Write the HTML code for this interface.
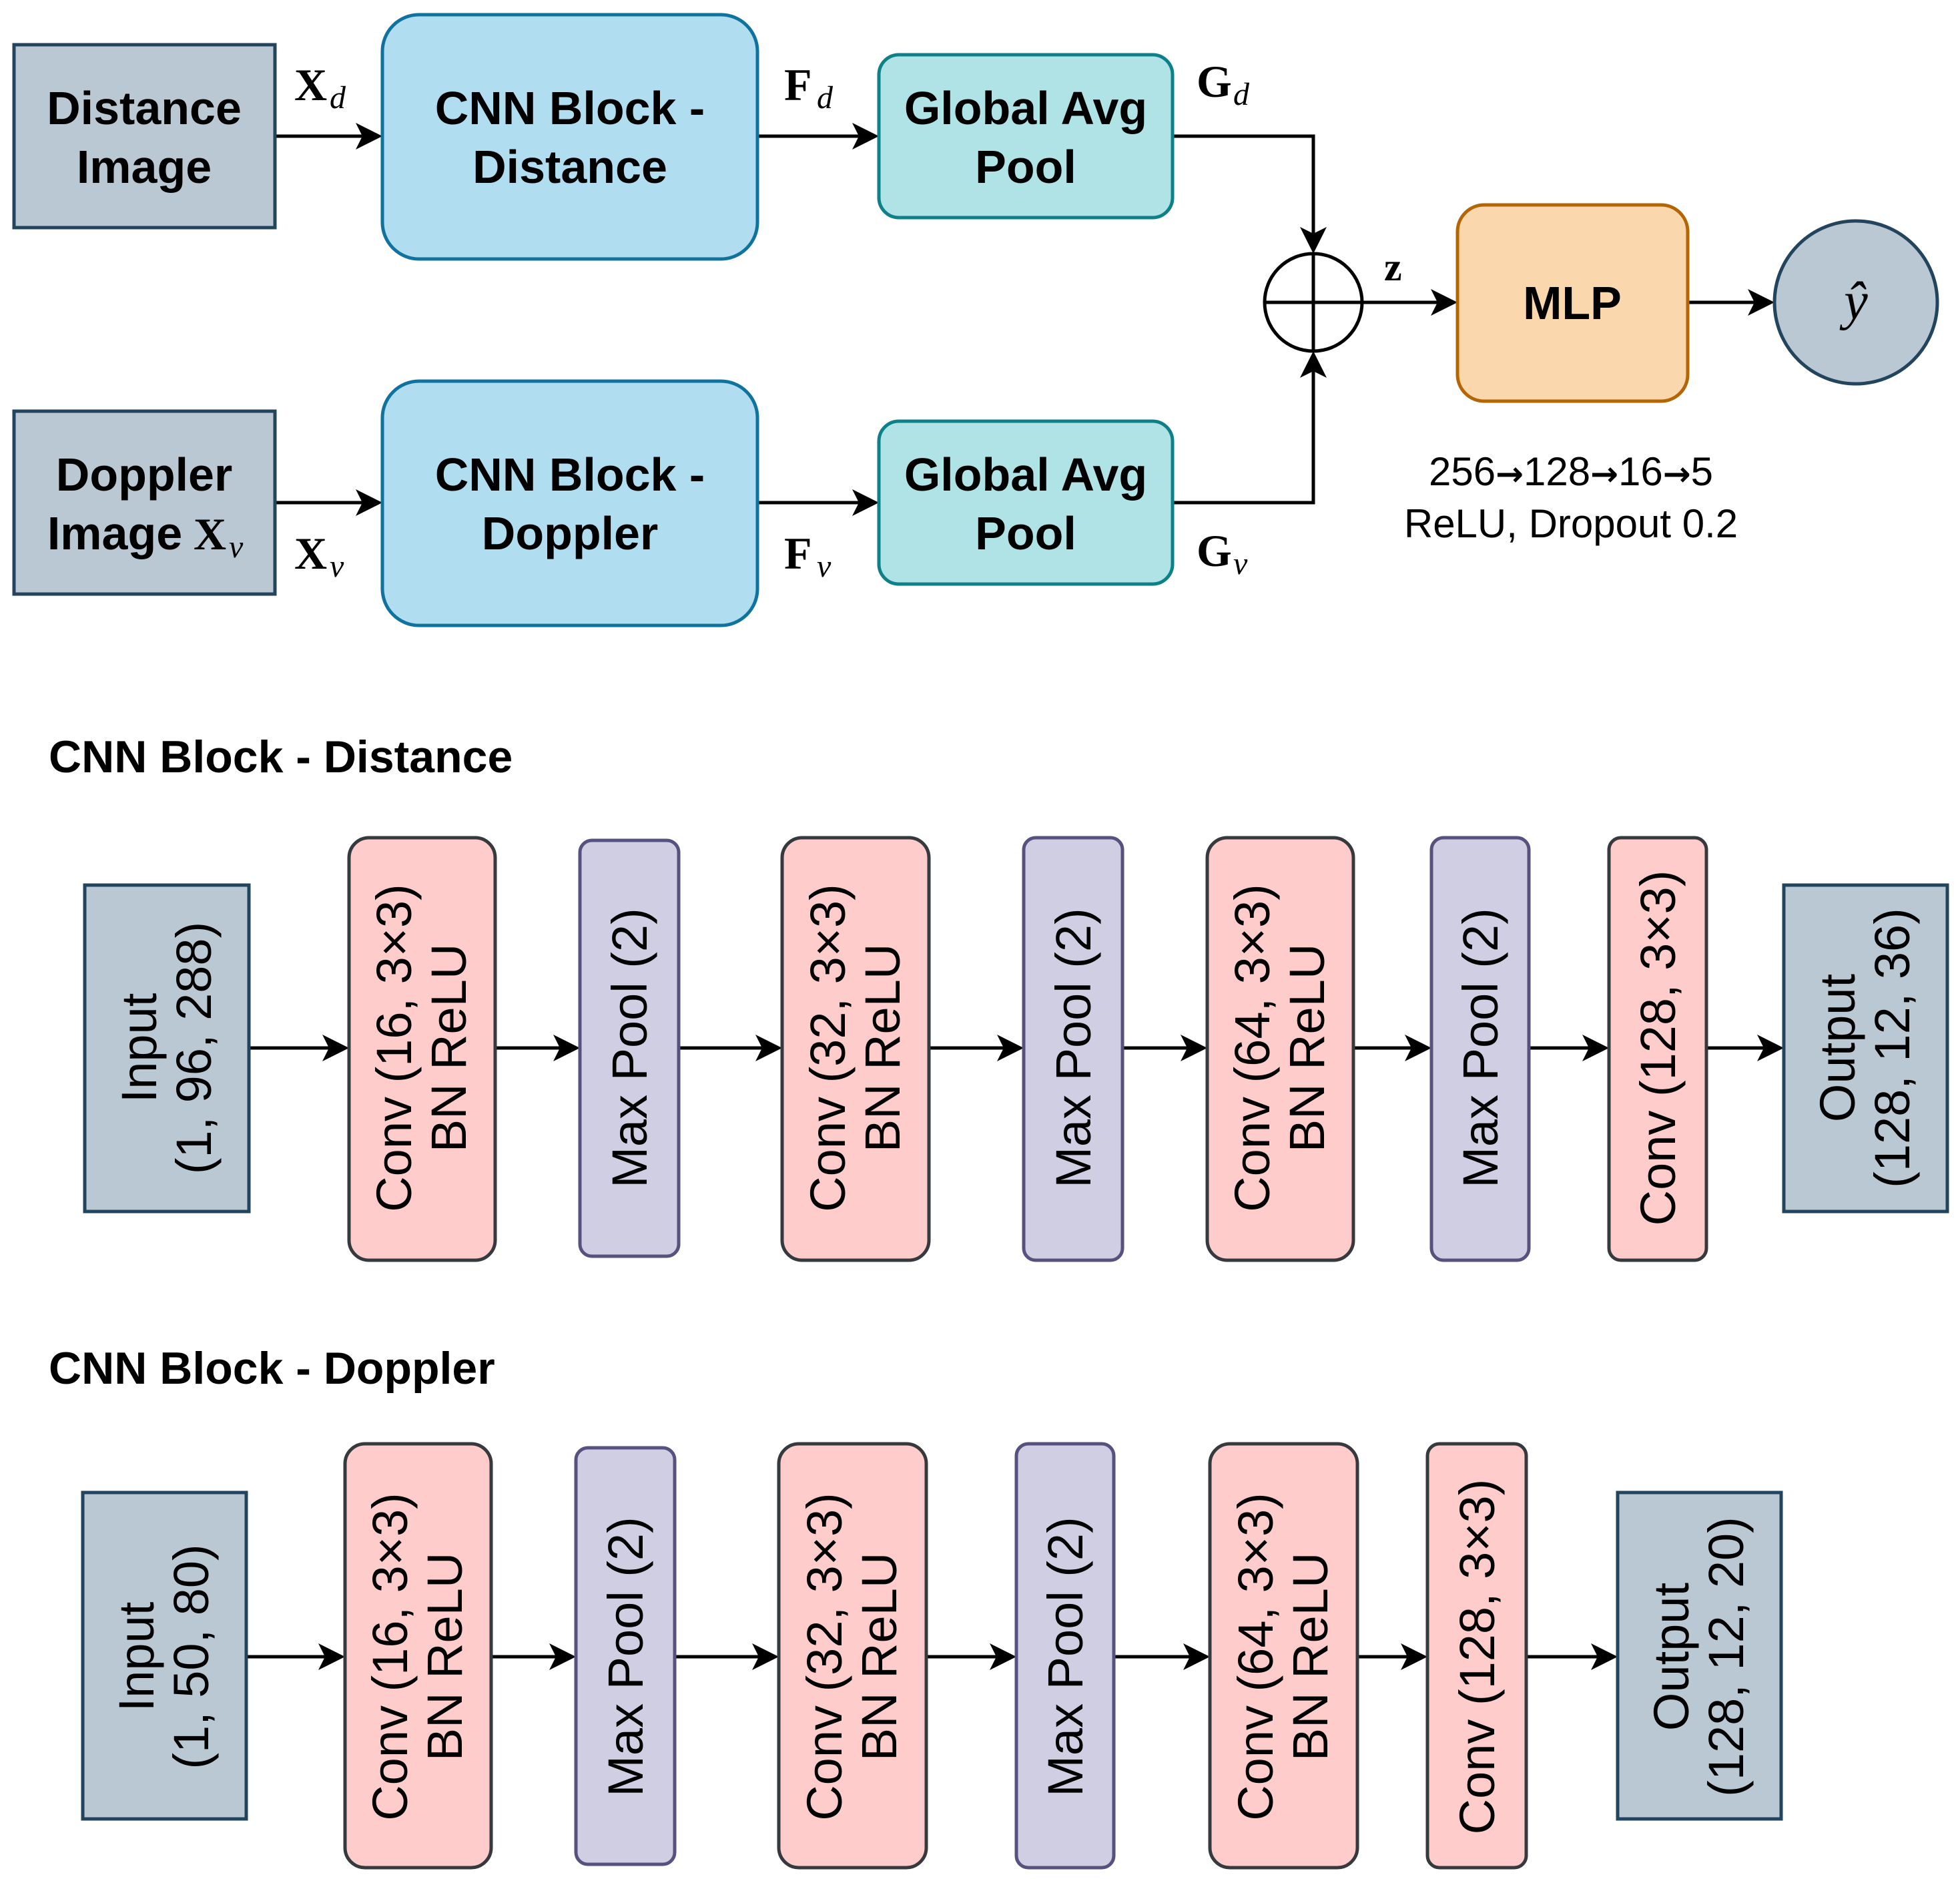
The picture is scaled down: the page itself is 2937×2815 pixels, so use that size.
<!DOCTYPE html>
<html><head><meta charset="utf-8"><style>
html,body{margin:0;padding:0;background:#fff;}
svg{display:block;}
.b{font-family:"Liberation Sans",Arial,sans-serif;font-weight:bold;font-size:70px;fill:#000;}
.r{font-family:"Liberation Sans",Arial,sans-serif;font-size:74px;fill:#000;}
.m{font-family:"Liberation Serif","DejaVu Serif",serif;font-weight:bold;font-size:68px;fill:#000;}
.s{font-family:"Liberation Serif","DejaVu Serif",serif;font-style:italic;font-size:48px;fill:#000;}
.ar{font-family:"DejaVu Sans",sans-serif;font-weight:bold;}
</style></head><body>
<svg width="2937" height="2815" viewBox="0 0 2937 2815" xmlns="http://www.w3.org/2000/svg">
<g stroke="#000" stroke-width="5" fill="none">
<line x1="412" y1="204" x2="545" y2="204"/>
<line x1="1135" y1="204" x2="1290" y2="204"/>
<line x1="412" y1="753" x2="545" y2="753"/>
<line x1="1135" y1="753" x2="1290" y2="753"/>
<polyline points="1757,204 1968,204 1968,352"/>
<polyline points="1757,753 1968,753 1968,554"/>
<line x1="2042" y1="453" x2="2156" y2="453"/>
<line x1="2529" y1="453" x2="2631" y2="453"/>
<line x1="373" y1="1570" x2="495" y2="1570"/>
<line x1="742" y1="1570" x2="841" y2="1570"/>
<line x1="1017" y1="1570" x2="1144" y2="1570"/>
<line x1="1392" y1="1570" x2="1506" y2="1570"/>
<line x1="1682" y1="1570" x2="1781" y2="1570"/>
<line x1="2028" y1="1570" x2="2117" y2="1570"/>
<line x1="2291" y1="1570" x2="2383" y2="1570"/>
<line x1="2557" y1="1570" x2="2645" y2="1570"/>
<line x1="369" y1="2482" x2="489" y2="2482"/>
<line x1="736" y1="2482" x2="835" y2="2482"/>
<line x1="1011" y1="2482" x2="1139" y2="2482"/>
<line x1="1388" y1="2482" x2="1495" y2="2482"/>
<line x1="1669" y1="2482" x2="1785" y2="2482"/>
<line x1="2034" y1="2482" x2="2111" y2="2482"/>
<line x1="2287" y1="2482" x2="2396" y2="2482"/>
</g>
<g fill="#000">
<path d="M573 204 l-40 -20 l10 20 l-10 20z"/>
<path d="M1317 204 l-40 -20 l10 20 l-10 20z"/>
<path d="M573 753 l-40 -20 l10 20 l-10 20z"/>
<path d="M1317 753 l-40 -20 l10 20 l-10 20z"/>
<path d="M1968 380 l-20 -40 l20 10 l20 -10z"/>
<path d="M1968 526 l-20 40 l20 -10 l20 10z"/>
<path d="M2184 453 l-40 -20 l10 20 l-10 20z"/>
<path d="M2659 453 l-40 -20 l10 20 l-10 20z"/>
<path d="M523 1570 l-40 -20 l10 20 l-10 20z"/>
<path d="M869 1570 l-40 -20 l10 20 l-10 20z"/>
<path d="M1172 1570 l-40 -20 l10 20 l-10 20z"/>
<path d="M1534 1570 l-40 -20 l10 20 l-10 20z"/>
<path d="M1809 1570 l-40 -20 l10 20 l-10 20z"/>
<path d="M2145 1570 l-40 -20 l10 20 l-10 20z"/>
<path d="M2411 1570 l-40 -20 l10 20 l-10 20z"/>
<path d="M2673 1570 l-40 -20 l10 20 l-10 20z"/>
<path d="M517 2482 l-40 -20 l10 20 l-10 20z"/>
<path d="M863 2482 l-40 -20 l10 20 l-10 20z"/>
<path d="M1167 2482 l-40 -20 l10 20 l-10 20z"/>
<path d="M1523 2482 l-40 -20 l10 20 l-10 20z"/>
<path d="M1813 2482 l-40 -20 l10 20 l-10 20z"/>
<path d="M2139 2482 l-40 -20 l10 20 l-10 20z"/>
<path d="M2424 2482 l-40 -20 l10 20 l-10 20z"/>
</g>
<g stroke-width="5">
<rect x="21" y="67" width="391" height="274" fill="#bac8d3" stroke="#23445d"/>
<rect x="573" y="22" width="562" height="366" rx="55" fill="#b1ddf0" stroke="#10739e"/>
<rect x="1317" y="82" width="440" height="244" rx="30" fill="#b0e3e6" stroke="#0e8088"/>
<rect x="21" y="616" width="391" height="274" fill="#bac8d3" stroke="#23445d"/>
<rect x="573" y="571" width="562" height="366" rx="55" fill="#b1ddf0" stroke="#10739e"/>
<rect x="1317" y="631" width="440" height="244" rx="30" fill="#b0e3e6" stroke="#0e8088"/>
<rect x="2184" y="307" width="345" height="294" rx="40" fill="#fad7ac" stroke="#b46504"/>
<ellipse cx="2781" cy="453" rx="122" ry="122" fill="#bac8d3" stroke="#23445d"/>
<circle cx="1968" cy="453" r="73" fill="#fff" stroke="#000"/>
<line x1="1895" y1="453" x2="2041" y2="453" stroke="#000"/>
<line x1="1968" y1="380" x2="1968" y2="526" stroke="#000"/>
</g>
<g class="b" text-anchor="middle">
<text x="216" y="186">Distance</text><text x="216" y="274">Image</text>
<text x="854" y="186">CNN Block -</text><text x="854" y="274">Distance</text>
<text x="1537" y="186">Global Avg</text><text x="1537" y="274">Pool</text>
<text x="216" y="735">Doppler</text><text x="172" y="823">Image</text>
<text x="854" y="735">CNN Block -</text><text x="854" y="823">Doppler</text>
<text x="1537" y="735">Global Avg</text><text x="1537" y="823">Pool</text>
<text x="2356" y="478">MLP</text>
</g>
<text class="m" x="290" y="823">X</text><text class="s" x="343" y="835">v</text>
<text class="m" x="441" y="150">X</text><text class="s" x="494" y="162">d</text>
<text class="m" x="1175" y="150">F</text><text class="s" x="1224" y="162">d</text>
<text class="m" x="1793" y="145">G</text><text class="s" x="1848" y="157">d</text>
<text class="m" x="2074" y="420" style="font-size:60px">z</text>
<text class="m" x="441" y="852">X</text><text class="s" x="494" y="864">v</text>
<text class="m" x="1175" y="852">F</text><text class="s" x="1224" y="864">v</text>
<text class="m" x="1793" y="848">G</text><text class="s" x="1848" y="860">v</text>
<text x="2781" y="478" text-anchor="middle" style="font-family:'Liberation Serif',serif;font-style:italic;font-size:80px">ŷ</text>
<g class="r" text-anchor="middle" style="font-size:60px">
<text x="2354" y="727">256<tspan class="ar" style="font-size:50px">→</tspan>128<tspan class="ar" style="font-size:50px">→</tspan>16<tspan class="ar" style="font-size:50px">→</tspan>5</text>
<text x="2354" y="805">ReLU, Dropout 0.2</text>
</g>
<g class="b" style="font-size:68px">
<text x="73" y="1157">CNN Block - Distance</text>
<text x="73" y="2073">CNN Block - Doppler</text>
</g>
<g stroke-width="5">
<rect x="127" y="1326" width="246" height="489" fill="#bac8d3" stroke="#23445d"/>
<rect x="523" y="1255" width="219" height="633" rx="30" fill="#ffcccc" stroke="#36393d"/>
<rect x="869" y="1259" width="148" height="623" rx="18" fill="#d0cee2" stroke="#56517e"/>
<rect x="1172" y="1255" width="220" height="633" rx="30" fill="#ffcccc" stroke="#36393d"/>
<rect x="1534" y="1255" width="148" height="633" rx="18" fill="#d0cee2" stroke="#56517e"/>
<rect x="1809" y="1255" width="219" height="633" rx="30" fill="#ffcccc" stroke="#36393d"/>
<rect x="2145" y="1255" width="146" height="633" rx="18" fill="#d0cee2" stroke="#56517e"/>
<rect x="2411" y="1255" width="146" height="633" rx="18" fill="#ffcccc" stroke="#36393d"/>
<rect x="2673" y="1326" width="245" height="489" fill="#bac8d3" stroke="#23445d"/>
<rect x="124" y="2236" width="245" height="489" fill="#bac8d3" stroke="#23445d"/>
<rect x="517" y="2163" width="219" height="635" rx="30" fill="#ffcccc" stroke="#36393d"/>
<rect x="863" y="2169" width="148" height="624" rx="18" fill="#d0cee2" stroke="#56517e"/>
<rect x="1167" y="2163" width="221" height="635" rx="30" fill="#ffcccc" stroke="#36393d"/>
<rect x="1523" y="2163" width="146" height="635" rx="18" fill="#d0cee2" stroke="#56517e"/>
<rect x="1813" y="2163" width="221" height="635" rx="30" fill="#ffcccc" stroke="#36393d"/>
<rect x="2139" y="2163" width="148" height="635" rx="18" fill="#ffcccc" stroke="#36393d"/>
<rect x="2424" y="2236" width="245" height="489" fill="#bac8d3" stroke="#23445d"/>
</g>
<g class="r" text-anchor="middle">
<g transform="translate(250,1570) rotate(-90)"><text x="0" y="-16">Input</text><text x="0" y="66">(1, 96, 288)</text></g>
<g transform="translate(632,1570) rotate(-90)"><text x="0" y="-16">Conv (16, 3×3)</text><text x="0" y="66">BN ReLU</text></g>
<g transform="translate(943,1570) rotate(-90)"><text x="0" y="26">Max Pool (2)</text></g>
<g transform="translate(1282,1570) rotate(-90)"><text x="0" y="-16">Conv (32, 3×3)</text><text x="0" y="66">BN ReLU</text></g>
<g transform="translate(1608,1570) rotate(-90)"><text x="0" y="26">Max Pool (2)</text></g>
<g transform="translate(1918,1570) rotate(-90)"><text x="0" y="-16">Conv (64, 3×3)</text><text x="0" y="66">BN ReLU</text></g>
<g transform="translate(2218,1570) rotate(-90)"><text x="0" y="26">Max Pool (2)</text></g>
<g transform="translate(2484,1570) rotate(-90)"><text x="0" y="26">Conv (128, 3×3)</text></g>
<g transform="translate(2795,1570) rotate(-90)"><text x="0" y="-16">Output</text><text x="0" y="66">(128, 12, 36)</text></g>
<g transform="translate(246,2482) rotate(-90)"><text x="0" y="-16">Input</text><text x="0" y="66">(1, 50, 80)</text></g>
<g transform="translate(626,2482) rotate(-90)"><text x="0" y="-16">Conv (16, 3×3)</text><text x="0" y="66">BN ReLU</text></g>
<g transform="translate(937,2482) rotate(-90)"><text x="0" y="26">Max Pool (2)</text></g>
<g transform="translate(1277,2482) rotate(-90)"><text x="0" y="-16">Conv (32, 3×3)</text><text x="0" y="66">BN ReLU</text></g>
<g transform="translate(1596,2482) rotate(-90)"><text x="0" y="26">Max Pool (2)</text></g>
<g transform="translate(1923,2482) rotate(-90)"><text x="0" y="-16">Conv (64, 3×3)</text><text x="0" y="66">BN ReLU</text></g>
<g transform="translate(2213,2482) rotate(-90)"><text x="0" y="26">Conv (128, 3×3)</text></g>
<g transform="translate(2546,2482) rotate(-90)"><text x="0" y="-16">Output</text><text x="0" y="66">(128, 12, 20)</text></g>
</g>
</svg>
</body></html>
